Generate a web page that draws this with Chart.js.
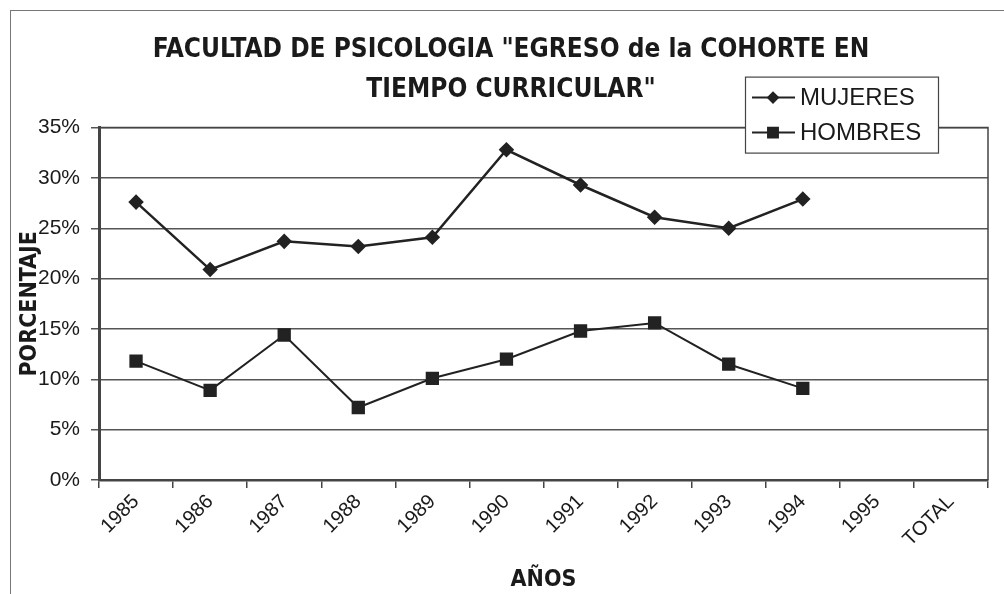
<!DOCTYPE html>
<html>
<head>
<meta charset="utf-8">
<script src="https://cdn.jsdelivr.net/npm/chart.js@4.4.1/dist/chart.umd.min.js"></script>
<style>
  html, body { margin: 0; padding: 0; background: #fff; }
  #wrap { width: 1004px; height: 594px; }
</style>
</head>
<body>
<div id="wrap"><canvas id="lineChart" width="1004" height="594"></canvas></div>
<script>
// Data
const years = ['1985', '1986', '1987', '1988', '1989', '1990', '1991', '1992', '1993', '1994', '1995', 'TOTAL'];
const mujeres = [27.6, 20.9, 23.7, 23.2, 24.1, 32.8, 29.3, 26.1, 25.0, 27.9, null, null];
const hombres = [11.8, 8.9, 14.4, 7.2, 10.1, 12.0, 14.8, 15.6, 11.5, 9.1, null, null];
const titleLines = ['FACULTAD DE PSICOLOGIA "EGRESO de la COHORTE EN', 'TIEMPO CURRICULAR"'];

const ink = '#222';
const gridGray = '#555';
const narrow = "'Liberation Sans Narrow', 'Arial Narrow', 'DejaVu Sans Condensed', sans-serif";
const sans = "'Liberation Sans', Arial, sans-serif";

// outer frame, plot border and the boxed legend
const framePlugin = {
    id: 'frame',
    beforeDraw(chart) {
        const ctx = chart.ctx;
        ctx.save();
        ctx.fillStyle = '#fff';
        ctx.fillRect(0, 0, chart.width, chart.height);
        ctx.strokeStyle = '#777';
        ctx.lineWidth = 1;
        ctx.strokeRect(10.5, 10.5, chart.width, chart.height);
        ctx.restore();
    },
    afterDatasetsDraw(chart) {
        const ctx = chart.ctx;
        const a = chart.chartArea;
        ctx.save();
        ctx.strokeStyle = '#444';
        ctx.lineWidth = 1.5;
        ctx.beginPath();
        ctx.moveTo(a.left, a.top);
        ctx.lineTo(a.right, a.top);
        ctx.lineTo(a.right, a.bottom);
        ctx.stroke();
        ctx.restore();
    },
    afterDraw(chart) {
        const ctx = chart.ctx;
        const a = chart.chartArea;
        const bx = a.right - 243, by = a.top - 51, bw = 193, bh = 76;
        ctx.save();
        ctx.fillStyle = '#fff';
        ctx.fillRect(bx, by, bw, bh);
        ctx.strokeStyle = '#444';
        ctx.lineWidth = 1.2;
        ctx.strokeRect(bx + 0.5, by + 0.5, bw, bh);
        chart.data.datasets.forEach((ds, i) => {
            const y = by + 21 + i * 35;
            ctx.strokeStyle = ink;
            ctx.lineWidth = 2;
            ctx.beginPath();
            ctx.moveTo(bx + 7, y);
            ctx.lineTo(bx + 50, y);
            ctx.stroke();
            Chart.helpers.drawPoint(ctx, {
                pointStyle: ds.pointStyle,
                radius: ds.pointRadius - 1,
                rotation: 0,
                borderWidth: 1
            }, bx + 28, y);
            ctx.fillStyle = ink;
            ctx.fill();
            ctx.fillStyle = '#1a1a1a';
            ctx.font = '24px ' + sans;
            ctx.textBaseline = 'middle';
            ctx.textAlign = 'left';
            ctx.fillText(ds.label, bx + 55, y + 1);
        });
        ctx.restore();
    }
};

const ctx = document.getElementById('lineChart').getContext('2d');
new Chart(ctx, {
    type: 'line',
    data: {
        labels: years,
        datasets: [{
            label: 'MUJERES',
            data: mujeres,
            borderColor: ink,
            backgroundColor: ink,
            borderWidth: 2.5,
            pointStyle: 'rectRot',
            pointRadius: 6,
            pointBorderColor: ink,
            pointBackgroundColor: ink,
            tension: 0,
        }, {
            label: 'HOMBRES',
            data: hombres,
            borderColor: ink,
            backgroundColor: ink,
            borderWidth: 2,
            pointStyle: 'rect',
            pointRadius: 8,
            pointBorderColor: ink,
            pointBackgroundColor: ink,
            tension: 0,
        }],
    },
    options: {
        responsive: false,
        animation: false,
        layout: { padding: { left: 34, right: 16, top: 0, bottom: 0 } },
        plugins: {
            legend: { display: false },
            tooltip: { enabled: false },
            title: {
                display: true,
                text: titleLines,
                color: '#1a1a1a',
                font: { family: narrow, size: 26, weight: 'bold', lineHeight: 1.55 },
                padding: { top: 30, bottom: 17 },
            },
        },
        scales: {
            x: {
                offset: true,
                grid: { offset: true, drawOnChartArea: false, drawTicks: true, tickLength: 8, color: '#444', lineWidth: 1.5 },
                border: { display: true, color: '#444', width: 2.5 },
                ticks: {
                    color: '#1a1a1a',
                    font: { family: sans, size: 20 },
                    maxRotation: 45,
                    minRotation: 45,
                    padding: 2,
                    autoSkip: false,
                },
                title: {
                    display: true,
                    text: 'AÑOS',
                    color: '#1a1a1a',
                    font: { family: narrow, size: 23, weight: 'bold' },
                    padding: { top: 0, bottom: 0 },
                },
                afterFit(scale) { scale.height = 114; },
            },
            y: {
                min: 0,
                max: 35,
                ticks: {
                    stepSize: 5,
                    color: '#1a1a1a',
                    font: { family: sans, size: 21 },
                    padding: 11,
                    callback: v => v + '%',
                },
                grid: { color: gridGray, lineWidth: 1.5, tickLength: 8 },
                border: { display: true, color: '#444', width: 3 },
                title: {
                    display: true,
                    text: 'PORCENTAJE',
                    color: '#1a1a1a',
                    font: { family: narrow, size: 23, weight: 'bold' },
                    padding: { top: -18, bottom: 0 },
                },
                afterFit(scale) { scale.width = 65; },
            },
        },
    },
    plugins: [framePlugin],
});
</script>
</body>
</html>
